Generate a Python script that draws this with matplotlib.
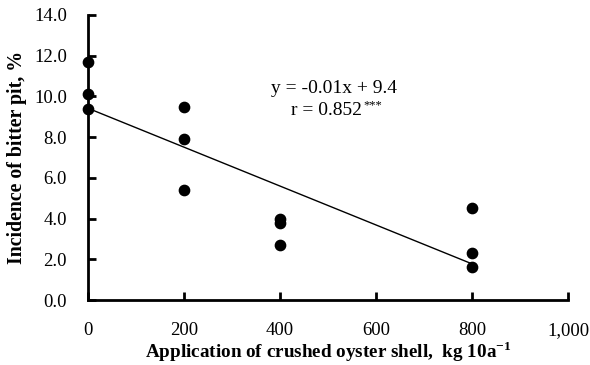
import numpy as np
import matplotlib
matplotlib.use("Agg")
import matplotlib.pyplot as plt
from matplotlib.ticker import FuncFormatter

# Datos
dosis = [0, 0, 0, 200, 200, 200, 400, 400, 400, 800, 800, 800]
incidencia = [11.7, 10.1, 9.4, 9.5, 7.9, 5.4, 4.0, 3.8, 2.7, 4.5, 2.3, 1.6]
x_ticks = [0, 200, 400, 600, 800, 1000]
y_ticks = [0, 2, 4, 6, 8, 10, 12, 14]

plt.rcParams['font.family'] = ['Liberation Serif', 'DejaVu Serif']
plt.rcParams['mathtext.fontset'] = 'custom'
plt.rcParams['mathtext.rm'] = 'Liberation Serif'
plt.rcParams['mathtext.bf'] = 'Liberation Serif:bold'

fig = plt.figure(figsize=(5.9, 3.65), dpi=100)
ax = fig.add_axes([0.149, 0.178, 0.814, 0.781])

ax.scatter(dosis, incidencia, s=55, color='black', zorder=3, clip_on=False)

# Linea de tendencia
pendiente, intercepto = np.polyfit(dosis, incidencia, 1)
xl = np.array([min(dosis), max(dosis)])
ax.plot(xl, pendiente * xl + intercepto, color='black', lw=1.0)

ax.set_xlim(0, 1000)
ax.set_ylim(0, 14)
ax.set_xticks(x_ticks)
ax.set_yticks(y_ticks)
ax.xaxis.set_major_formatter(FuncFormatter(lambda v, p: f"{int(v):,}"))
ax.yaxis.set_major_formatter(FuncFormatter(lambda v, p: f"{v:.1f}"))

for s in ['top', 'right']:
    ax.spines[s].set_visible(False)
for s in ['left', 'bottom']:
    ax.spines[s].set_linewidth(2.0)

ax.tick_params(axis='both', direction='in', length=6, width=2.0, labelsize=13.5)
ax.tick_params(axis='x', pad=16)
ax.tick_params(axis='y', pad=15)

ax.set_xlabel(r'Application of crushed oyster shell,  kg 10a$^{\mathbf{-1}}$',
              fontsize=13.8, fontweight='bold', labelpad=0)
ax.set_ylabel('Incidence of bitter pit, %', fontsize=14.3, fontweight='bold', labelpad=5)

ax.text(512, 10.4, 'y = -0.01x + 9.4', ha='center', va='center', fontsize=14)
r_txt = ax.text(571, 9.3, 'r = 0.852', ha='right', va='center', fontsize=14)
ax.annotate('***', xy=(1, 0.45), xycoords=r_txt, xytext=(1, 0),
            textcoords='offset points', ha='left', va='bottom', fontsize=9)

fig.savefig('out.png', dpi=100)
